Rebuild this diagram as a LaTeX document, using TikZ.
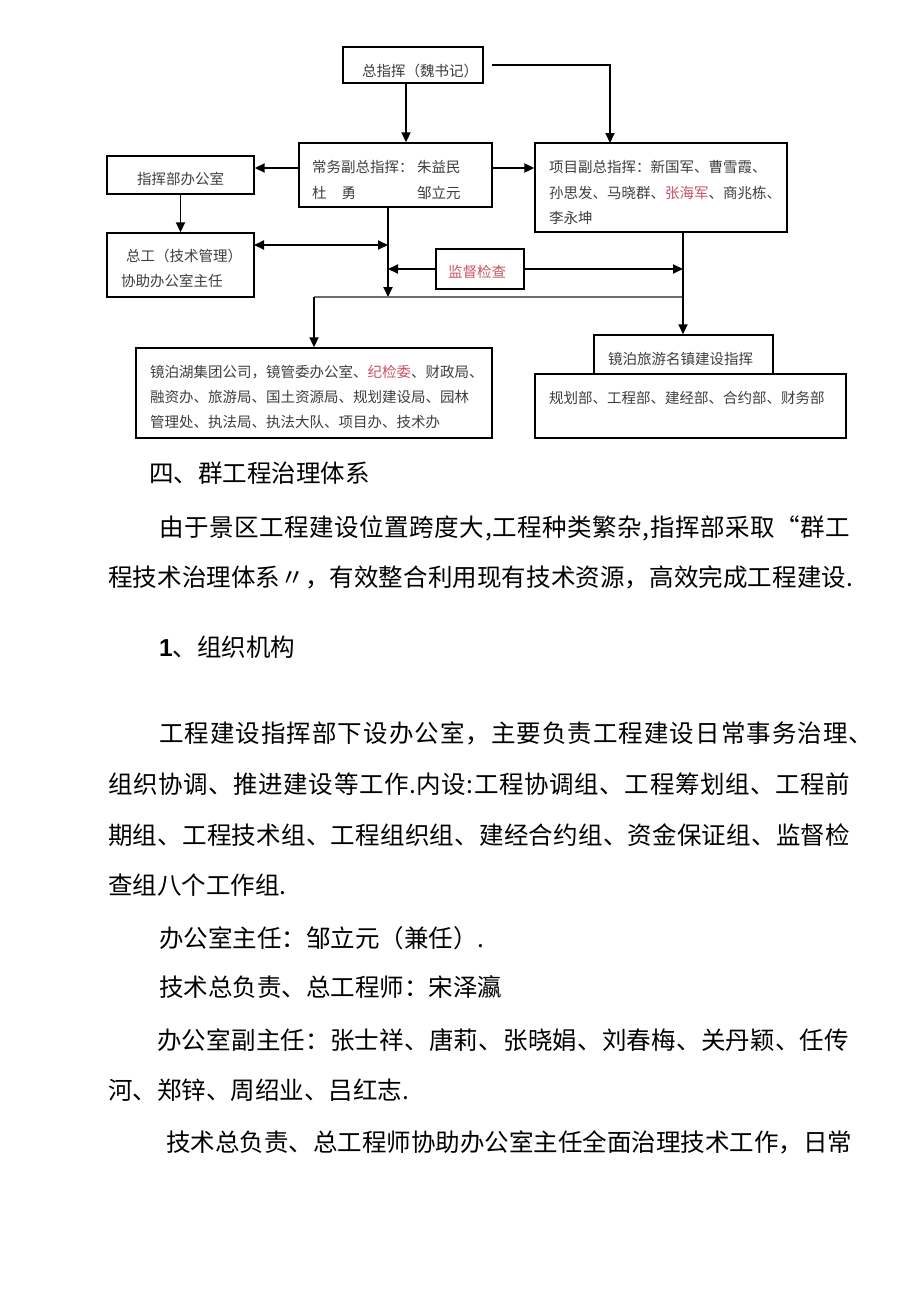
\documentclass[tikz,border=0pt]{standalone}
\usepackage{fontspec}
\setmainfont{Liberation Serif}
\newfontfamily\cjk{Noto Sans CJK SC}
\newfontfamily\arialf{Liberation Sans}
\usetikzlibrary{arrows.meta}
\definecolor{boxgray}{RGB}{62,62,62}
\definecolor{mark}{RGB}{200,85,100}
\definecolor{hline}{RGB}{110,110,110}
\makeatletter
\def\spreadtext#1{\spr@a#1\@nil}
\def\spr@a#1{\ifx#1\@nil\else #1\expandafter\spr@b\fi}
\def\spr@b#1{\ifx#1\@nil\else\hfil #1\expandafter\spr@b\fi}
\makeatother
\begin{document}
\begin{tikzpicture}[x=1pt,y=-1pt,
  box/.style={draw=black, line width=1.4pt, inner sep=0pt},
  arr/.style={line width=1.9pt, -{Triangle[length=10pt,width=9pt]}},
  darr/.style={line width=1.9pt, {Triangle[length=10pt,width=9pt]}-{Triangle[length=10pt,width=9pt]}},
  bt/.style={font=\cjk\fontsize{14.5}{17}\selectfont, text=boxgray, inner sep=0pt, anchor=west},
  body/.style={font=\cjk\fontsize{24.5}{30}\selectfont, text=black, inner sep=0pt, anchor=west}]
\useasboundingbox[fill=white] (0,0) rectangle (920,1301);

% boxes
\node[box, minimum width=140pt, minimum height=36pt] (zzh) at (413,65) {};
\node[box, minimum width=193pt, minimum height=64pt] (cw) at (395.5,175) {};
\node[box, minimum width=147pt, minimum height=38pt] (bgs) at (180.5,175) {};
\node[box, minimum width=147pt, minimum height=64pt] (zg) at (180.5,265) {};
\node[box, minimum width=88pt, minimum height=40pt] (jd) at (480,269) {};
\node[box, minimum width=252pt, minimum height=89pt] (xm) at (661,187.5) {};
\node[box, minimum width=356pt, minimum height=90pt] (grp) at (314,393) {};
\node[box, minimum width=179pt, minimum height=39pt] (lyz) at (683.5,354.5) {};
\node[box, minimum width=311pt, minimum height=64pt] (bm) at (690.5,406) {};

% box texts
\node[bt] (t1) at (362,71) {总指挥（魏书记）};
\node[bt] (t2a) at (312,167) {常务副总指挥：};
\node[bt] (t2b) at (417,167) {朱益民};
\node[bt] (t2c) at (312,193) {杜\hspace{15pt}勇};
\node[bt] (t2d) at (417,193) {邹立元};
\node[bt] (t3) at (137,179) {指挥部办公室};
\node[bt] (t4) at (126,256) {总工（技术管理）};
\node[bt] (t5) at (121,281) {协助办公室主任};
\node[bt, text=mark] (t6) at (448,272) {监督检查};
\node[bt] (t7) at (549,167) {项目副总指挥：新国军、曹雪霞、};
\node[bt] (t8) at (549,193) {孙思发、马晓群、\textcolor{mark}{张海军}、商兆栋、};
\node[bt] (t9) at (549,218) {李永坤};
\node[bt] (t10) at (150,372) {镜泊湖集团公司，镜管委办公室、\textcolor{mark}{纪检委}、财政局、};
\node[bt] (t11) at (150,397) {融资办、旅游局、国土资源局、规划建设局、园林};
\node[bt] (t12) at (150,422) {管理处、执法局、执法大队、项目办、技术办};
\node[bt] (t13) at (608,359) {镜泊旅游名镇建设指挥};
\node[bt] (t14) at (549,398) {规划部、工程部、建经部、合约部、财务部};

% junctions
\coordinate (J1) at (388,297);
\coordinate (J2) at (683,297);
\coordinate (J3) at (314,297);
\coordinate (a1) at (406,83);
\coordinate (a2) at (492,65);
\coordinate (a2e) at (610,143);
\coordinate (a3) at (299,168);
\coordinate (a4) at (492,168);
\coordinate (a6) at (254,245);

% connectors
\draw[arr] (a1) -- (a1 |- cw.north);
\draw[arr] (a2) -| (a2e);
\draw[arr] (a3) -- (a3 -| bgs.east);
\draw[arr] (a4) -- (a4 -| xm.west);
\draw[arr] (bgs.south) -- (zg.north);
\draw[arr] (cw.south -| J1) -- (J1);
\draw[darr] (a6) -- (a6 -| J1);
\draw[arr] (jd.west) -- (jd.west -| J1);
\draw[arr] (jd.east) -- (jd.east -| J2);
\draw[line width=1.5pt, draw=hline] (J3) -- (J2);
\draw[arr] (J3) -- (J3 |- grp.north);
\draw[arr] (xm.south -| J2) -- (J2 |- lyz.north);

% body text
\node[body] (p1) at (149,473) {四、群工程治理体系};
\node[body] (p2) at (159,528) {\hbox to 691pt{\spreadtext{由于景区工程建设位置跨度大,工程种类繁杂,指挥部采取“群工}}};
\node[body] (p3) at (108,577) {\hbox to 745pt{\spreadtext{程技术治理体系〃，有效整合利用现有技术资源，高效完成工程建设.}}};
\node[body] (p4) at (159,647) {{\arialf\bfseries 1}、组织机构};
\node[body] (p5) at (159,733) {\hbox to 714pt{\spreadtext{工程建设指挥部下设办公室，主要负责工程建设日常事务治理、}}};
\node[body] (p6) at (108,784) {\hbox to 742pt{\spreadtext{组织协调、推进建设等工作.内设:工程协调组、工程筹划组、工程前}}};
\node[body] (p7) at (108,835) {\hbox to 742pt{\spreadtext{期组、工程技术组、工程组织组、建经合约组、资金保证组、监督检}}};
\node[body] (p8) at (108,885) {查组八个工作组.};
\node[body] (p9) at (159,938) {办公室主任：邹立元（兼任）.};
\node[body] (p10) at (159,987) {技术总负责、总工程师：宋泽瀛};
\node[body] (p11) at (157,1040) {\hbox to 692pt{\spreadtext{办公室副主任：张士祥、唐莉、张晓娟、刘春梅、关丹颖、任传}}};
\node[body] (p12) at (108,1090) {河、郑锌、周绍业、吕红志.};
\node[body] (p13) at (166,1142) {技术总负责、总工程师协助办公室主任全面治理技术工作，日常};
\end{tikzpicture}
\end{document}
